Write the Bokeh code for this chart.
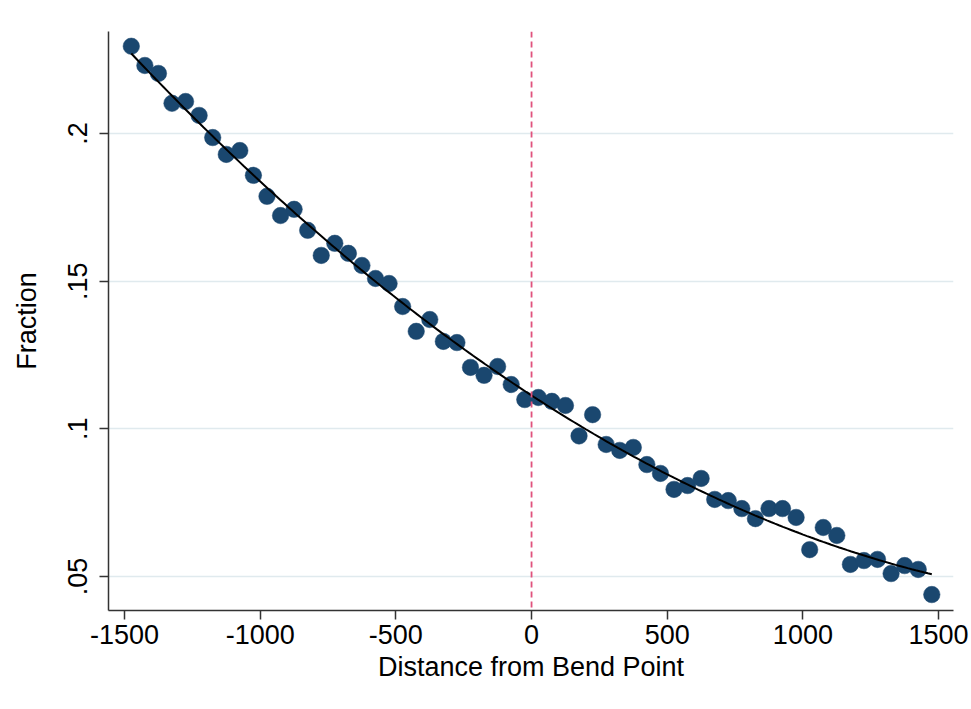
import numpy as np
from bokeh.plotting import figure
from bokeh.models import ColumnDataSource, FixedTicker, Span
from bokeh.embed import file_html
from bokeh.resources import INLINE

# Binned scatter data: distance from bend point vs. fraction
distance = [-1475, -1425, -1375, -1325, -1275, -1225, -1175, -1125, -1075, -1025,
            -975, -925, -875, -825, -775, -725, -675, -625, -575, -525,
            -475, -425, -375, -325, -275, -225, -175, -125, -75, -25,
            25, 75, 125, 175, 225, 275, 325, 375, 425, 475,
            525, 575, 625, 675, 725, 775, 825, 875, 925, 975,
            1025, 1075, 1125, 1175, 1225, 1275, 1325, 1375, 1425, 1475]
fraction = [0.2295, 0.2230, 0.2203, 0.2102, 0.2108, 0.2061, 0.1986, 0.1929, 0.1942, 0.1858,
            0.1787, 0.1722, 0.1743, 0.1672, 0.1587, 0.1628, 0.1594, 0.1553, 0.1509, 0.1492,
            0.1414, 0.1330, 0.1370, 0.1296, 0.1292, 0.1208, 0.1181, 0.1211, 0.1150, 0.1099,
            0.1106, 0.1093, 0.1079, 0.0976, 0.1048, 0.0947, 0.0927, 0.0937, 0.0879, 0.0849,
            0.0795, 0.0808, 0.0832, 0.0761, 0.0757, 0.0730, 0.0696, 0.0730, 0.0730, 0.0700,
            0.0591, 0.0666, 0.0639, 0.0541, 0.0554, 0.0558, 0.0510, 0.0537, 0.0524, 0.0439]

x_ticks = [-1500, -1000, -500, 0, 500, 1000, 1500]
x_tick_labels = ["-1500", "-1000", "-500", "0", "500", "1000", "1500"]
y_ticks = [0.05, 0.10, 0.15, 0.20]
y_tick_labels = [".05", ".1", ".15", ".2"]

# Quadratic fit through the binned points (as in Stata's qfit)
coef = np.polyfit(distance, fraction, 2)
fit_x = np.linspace(min(distance), max(distance), 200)
fit_y = np.polyval(coef, fit_x)

FONT = "Liberation Sans"

p = figure(width=971, height=709, output_backend="svg", toolbar_location=None,
           x_range=(-1559, 1555), y_range=(0.0385, 0.2345),
           min_border_left=108, min_border_right=18,
           min_border_top=31, min_border_bottom=99)
p.background_fill_color = "white"
p.border_fill_color = "white"
p.outline_line_color = None

p.add_layout(Span(location=0, dimension="height", line_color="#e0527d",
                  line_dash="6 4", line_width=1.8))

src = ColumnDataSource(dict(x=distance, y=fraction))
p.scatter("x", "y", source=src, size=16.5, fill_color="#1a476f",
          line_color="#1a476f", line_width=0.5)
p.line(fit_x, fit_y, line_color="black", line_width=2)

# grid
p.xgrid.grid_line_color = None
p.ygrid.ticker = FixedTicker(ticks=y_ticks)
p.ygrid.grid_line_color = "#e0eaee"
p.ygrid.grid_line_width = 1.5

# x axis
p.xaxis.ticker = FixedTicker(ticks=x_ticks)
p.xaxis.major_label_overrides = {t: l for t, l in zip(x_ticks, x_tick_labels)}
p.xaxis.axis_label = "Distance from Bend Point"
p.xaxis.axis_label_text_font = FONT
p.xaxis.axis_label_text_font_style = "normal"
p.xaxis.axis_label_text_font_size = "27px"
p.xaxis.axis_label_standoff = 5
p.xaxis.major_label_text_font = FONT
p.xaxis.major_label_text_font_size = "27px"
p.xaxis.major_label_standoff = 5

# y axis
p.yaxis.ticker = FixedTicker(ticks=y_ticks)
p.yaxis.major_label_overrides = {t: l for t, l in zip(y_ticks, y_tick_labels)}
p.yaxis.major_label_orientation = "vertical"
p.yaxis.axis_label = "Fraction"
p.yaxis.axis_label_text_font = FONT
p.yaxis.axis_label_text_font_style = "normal"
p.yaxis.axis_label_text_font_size = "27px"
p.yaxis.axis_label_standoff = 24
p.yaxis.major_label_text_font = FONT
p.yaxis.major_label_text_font_size = "27px"
p.yaxis.major_label_standoff = 12

for ax in (p.xaxis, p.yaxis):
    ax.axis_line_color = "#333333"
    ax.axis_line_width = 1.5
    ax.major_tick_line_color = "#333333"
    ax.major_tick_line_width = 1.5
    ax.major_tick_out = 9
    ax.major_tick_in = 0
    ax.minor_tick_line_color = None
    ax.major_label_text_color = "black"
    ax.axis_label_text_color = "black"

open("out.html", "w").write(file_html(p, INLINE))
